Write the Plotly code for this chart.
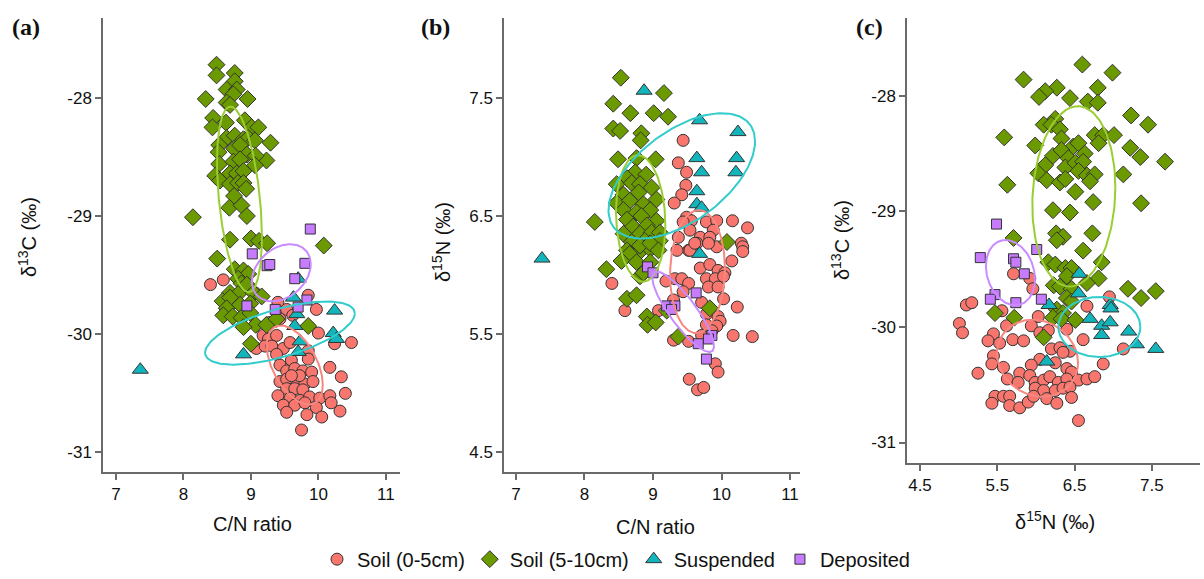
import numpy as np
import plotly.graph_objects as go

# ---------------- data ----------------
groups = ["Soil (0-5cm)", "Soil (5-10cm)", "Suspended", "Deposited"]

# Panel (a): C/N ratio vs d13C
a_soil0_cn = [8.40, 8.59, 9.06, 9.40, 9.53, 9.85, 9.97, 9.28, 9.43, 10.00, 9.18, 9.26, 9.38, 9.08, 9.21, 9.31, 9.48, 9.58,
              9.38, 9.85, 10.24, 10.49, 9.60, 9.85, 10.17, 9.43, 9.53, 9.65, 9.77, 9.90, 9.43, 9.53, 9.68, 9.80, 9.92,
              10.34, 9.53, 9.65, 9.77, 9.40, 9.58, 9.73, 9.87, 10.02, 10.17, 10.40, 9.48, 9.65, 9.80, 9.97, 10.19, 9.53,
              9.83, 10.05, 10.32, 9.75, 9.62, 9.72, 9.60]
a_soil0_c13 = [-29.58, -29.54, -29.65, -29.73, -29.79, -29.67, -29.79, -29.90, -29.87, -29.99, -30.01, -30.04, -30.01,
               -30.12, -30.10, -30.10, -30.12, -30.07, -30.17, -30.14, -30.08, -30.07, -30.22, -30.21, -30.28, -30.26,
               -30.31, -30.29, -30.31, -30.32, -30.40, -30.38, -30.39, -30.42, -30.40, -30.36, -30.46, -30.46, -30.47,
               -30.52, -30.54, -30.56, -30.53, -30.54, -30.52, -30.50, -30.60, -30.60, -30.58, -30.62, -30.58, -30.66,
               -30.68, -30.70, -30.65, -30.81, -29.84, -30.35, -30.35]
a_soil5_cn = [8.49, 8.49, 8.76, 8.76, 8.64, 8.79, 8.74, 8.33, 8.64, 8.69, 8.95, 8.44, 8.43, 8.63, 8.91, 9.01, 9.11, 9.29,
              9.23, 8.64, 8.76, 8.89, 8.96, 9.06, 8.53, 8.52, 8.75, 8.84, 8.94, 9.07, 8.53, 8.74, 8.84, 9.06, 8.47, 8.54,
              8.69, 8.79, 8.89, 8.69, 8.81, 8.89, 8.93, 8.75, 8.68, 8.86, 8.94, 8.14, 8.69, 9.00, 9.12, 9.24, 10.08,
              8.50, 8.76, 8.89, 8.96, 8.81, 8.86, 8.94, 8.69, 8.81, 8.58, 8.69, 9.04, 9.16, 8.64, 8.84, 8.99, 8.59,
              8.73, 8.86, 8.99, 9.07, 8.89, 9.23, 9.38, 9.85, 9.00]
a_soil5_c13 = [-27.72, -27.81, -27.79, -27.86, -27.93, -27.93, -27.97, -28.01, -28.04, -28.06, -28.01, -28.17, -28.25,
               -28.21, -28.19, -28.25, -28.25, -28.38, -28.53, -28.34, -28.32, -28.35, -28.34, -28.36, -28.40, -28.46,
               -28.43, -28.40, -28.48, -28.49, -28.56, -28.54, -28.52, -28.57, -28.66, -28.70, -28.64, -28.64, -28.62,
               -28.73, -28.72, -28.72, -28.77, -28.83, -28.93, -28.91, -29.00, -29.01, -29.20, -29.19, -29.21, -29.23,
               -29.25, -29.36, -29.45, -29.46, -29.49, -29.53, -29.57, -29.58, -29.65, -29.66, -29.72, -29.69, -29.65,
               -29.68, -29.78, -29.75, -29.74, -29.84, -29.85, -29.86, -29.82, -29.92, -29.94, -29.92, -29.87, -29.93,
               -30.08]
a_susp_cn = [9.70, 9.63, 9.68, 10.24, 9.65, 9.73, 9.70, 10.22, 10.27, 8.89, 7.36]
a_susp_c13 = [-29.53, -29.69, -29.83, -29.80, -29.93, -30.06, -30.15, -29.99, -30.04, -30.17, -30.30]
a_dep_cn = [9.88, 9.02, 9.24, 9.28, 9.80, 9.65, 9.83, 8.94, 9.36, 9.70]
a_dep_c13 = [-29.11, -29.32, -29.42, -29.41, -29.40, -29.53, -29.71, -29.76, -29.79, -29.77]

# Panel (b): C/N ratio vs d15N
b_soil0_cn = [9.44, 9.37, 9.49, 9.48, 9.42, 9.31, 9.49, 9.56, 9.44, 9.78, 9.93, 10.16, 10.38, 9.88, 9.54, 9.37, 9.69,
              9.83, 9.64, 10.29, 9.93, 9.52, 9.35, 9.54, 9.61, 9.81, 10.31, 10.31, 10.15, 9.69, 9.83, 9.95, 10.05, 9.78,
              9.91, 10.03, 9.32, 9.42, 9.19, 9.52, 9.81, 9.95, 9.44, 8.40, 10.03, 9.30, 9.71, 8.59, 9.08, 10.23, 9.78,
              9.95, 9.98, 9.78, 9.93, 10.17, 10.45, 9.71, 9.52, 9.30, 9.91, 9.95, 9.53, 9.65, 9.74, 9.86]
b_soil0_n15 = [7.14, 6.95, 6.87, 6.76, 6.68, 6.61, 6.49, 6.46, 6.45, 6.45, 6.46, 6.46, 6.40, 6.38, 6.38, 6.32, 6.32,
               6.32, 6.27, 6.27, 6.24, 6.21, 6.21, 6.21, 6.27, 6.27, 6.24, 6.20, 6.12, 6.06, 6.09, 6.04, 6.02, 5.97,
               5.97, 5.99, 5.97, 5.97, 5.95, 5.93, 5.90, 5.90, 5.86, 5.93, 5.80, 5.79, 5.77, 5.70, 5.70, 5.73, 5.67,
               5.65, 5.61, 5.58, 5.57, 5.49, 5.48, 5.49, 5.44, 5.45, 5.25, 5.18, 5.12, 5.03, 5.05, 5.53]
b_soil5_cn = [8.53, 9.16, 8.42, 8.67, 9.01, 9.22, 8.42, 8.52, 8.83, 8.82, 8.49, 8.76, 9.04, 8.15, 8.74, 8.62, 8.90, 8.47,
              8.69, 8.81, 8.98, 8.57, 8.79, 9.05, 8.47, 8.66, 8.86, 8.57, 8.76, 8.96, 8.62, 8.83, 9.05, 8.71, 8.91, 8.57,
              8.81, 8.98, 9.10, 8.69, 8.88, 9.10, 8.62, 8.81, 8.96, 10.08, 8.81, 8.96, 9.08, 8.66, 8.54, 8.76, 8.96,
              8.32, 8.81, 8.86, 8.62, 8.76, 8.91, 8.92, 9.04, 9.83, 9.37, 9.20]
b_soil5_n15 = [7.67, 7.54, 7.45, 7.37, 7.37, 7.34, 7.24, 7.22, 7.20, 7.14, 6.98, 6.99, 6.98, 6.45, 6.87, 6.82, 6.85, 6.77,
               6.78, 6.77, 6.74, 6.68, 6.70, 6.64, 6.61, 6.63, 6.60, 6.55, 6.53, 6.55, 6.47, 6.50, 6.46, 6.41, 6.42, 6.35,
               6.35, 6.36, 6.36, 6.28, 6.29, 6.29, 6.21, 6.20, 6.22, 6.28, 6.25, 6.27, 6.21, 6.18, 6.12, 6.11, 6.11,
               6.05, 5.99, 6.02, 5.80, 5.83, 5.65, 5.58, 5.60, 5.72, 5.48, 5.70]
b_susp_cn = [8.87, 9.68, 10.24, 9.64, 10.22, 9.71, 10.21, 9.64, 9.64, 9.71, 9.68, 7.38]
b_susp_n15 = [7.56, 7.31, 7.21, 6.99, 6.99, 6.87, 6.87, 6.71, 6.60, 6.57, 6.18, 6.14]
b_dep_cn = [8.92, 9.00, 9.63, 9.20, 9.32, 9.27, 9.86, 9.81, 9.66, 9.78]
b_dep_n15 = [6.07, 6.02, 5.85, 5.74, 5.74, 5.71, 5.49, 5.46, 5.42, 5.29]

# Panel (c): d15N vs d13C
c_soil0_n15 = [5.71, 5.92, 5.96, 5.10, 5.17, 5.56, 6.03, 6.66, 6.95, 5.01, 5.05, 5.62, 5.94, 6.05, 6.16, 6.40, 5.45,
               5.38, 5.53, 5.70, 5.84, 6.61, 7.13, 6.20, 6.31, 6.44, 6.35, 5.45, 5.43, 5.58, 6.05, 5.94, 6.25, 6.40,
               6.46, 6.87, 5.25, 5.63, 5.79, 5.92, 5.77, 5.99, 6.10, 6.18, 6.29, 6.40, 6.55, 6.66, 6.76, 5.99, 6.10,
               6.25, 6.35, 6.44, 5.47, 5.58, 5.66, 5.43, 5.66, 5.79, 5.90, 5.97, 6.14, 6.27, 6.46, 6.55]
c_soil0_c13 = [-29.54, -29.58, -29.67, -29.81, -29.79, -29.86, -29.91, -29.82, -29.74, -29.97, -30.05, -29.99, -29.99,
               -30.05, -30.03, -30.02, -30.06, -30.12, -30.14, -30.11, -30.12, -30.11, -30.19, -30.19, -30.18, -30.21,
               -30.22, -30.25, -30.32, -30.35, -30.28, -30.33, -30.31, -30.36, -30.39, -30.32, -30.40, -30.45, -30.40,
               -30.42, -30.48, -30.48, -30.46, -30.43, -30.48, -30.45, -30.46, -30.45, -30.43, -30.53, -30.55, -30.55,
               -30.53, -30.52, -30.60, -30.60, -30.60, -30.66, -30.68, -30.70, -30.65, -30.60, -30.62, -30.66, -30.61,
               -30.81]
c_soil5_n15 = [6.60, 6.99, 5.84, 6.27, 6.80, 6.12, 6.04, 6.44, 6.67, 6.80, 7.23, 7.45, 6.25, 6.10, 6.20, 6.31, 5.59,
               5.99, 6.33, 6.48, 6.55, 6.76, 6.87, 7.01, 6.81, 7.22, 7.35, 7.67, 6.22, 6.33, 6.42, 6.63, 6.12, 6.38,
               6.51, 6.61, 6.03, 6.14, 6.31, 6.38, 6.55, 6.66, 6.76, 6.70, 7.13, 5.63, 6.51, 6.74, 7.36, 6.22, 6.44,
               6.26, 6.35, 6.27, 6.73, 5.71, 6.61, 6.85, 6.16, 6.25, 6.38, 6.46, 6.40, 6.81, 6.23, 6.31, 6.46, 6.66,
               7.19, 7.36, 7.55, 6.40, 6.46, 6.27, 6.35, 5.47, 5.72, 6.22, 6.33, 6.51, 6.10]
c_soil5_c13 = [-27.73, -27.80, -27.86, -27.93, -27.93, -27.96, -28.01, -28.02, -28.05, -28.06, -28.17, -28.25, -28.20,
               -28.25, -28.25, -28.29, -28.36, -28.43, -28.37, -28.44, -28.41, -28.34, -28.34, -28.34, -28.41, -28.45,
               -28.53, -28.57, -28.52, -28.47, -28.54, -28.50, -28.60, -28.62, -28.58, -28.57, -28.67, -28.73, -28.75,
               -28.72, -28.65, -28.69, -28.68, -28.74, -28.68, -28.77, -28.83, -28.92, -28.93, -28.99, -29.01, -29.19,
               -29.22, -29.25, -29.19, -29.23, -29.34, -29.44, -29.44, -29.46, -29.49, -29.49, -29.56, -29.58, -29.64,
               -29.65, -29.67, -29.62, -29.67, -29.75, -29.69, -29.75, -29.78, -29.85, -29.88, -29.88, -29.92, -29.92,
               -29.93, -29.94, -30.09]
c_susp_n15 = [6.56, 6.55, 6.96, 6.97, 6.17, 6.70, 6.85, 6.96, 6.85, 7.20, 7.30, 7.55, 6.14]
c_susp_c13 = [-29.54, -29.71, -29.81, -29.84, -29.81, -29.93, -29.99, -29.96, -30.07, -30.04, -30.15, -30.19, -30.30]
c_dep_n15 = [5.49, 6.01, 5.28, 5.71, 5.74, 5.85, 5.47, 5.41, 5.74, 6.07]
c_dep_c13 = [-29.11, -29.33, -29.40, -29.41, -29.44, -29.54, -29.72, -29.76, -29.79, -29.76]

# Ellipses: centre x, centre y, half-extent x, half-extent y, correlation (order follows `groups`)
a_ell_cx = [9.65, 8.83, 9.43, 9.45]
a_ell_cy = [-30.26, -28.86, -29.99, -29.48]
a_ell_hx = [0.415, 0.333, 1.11, 0.437]
a_ell_hy = [0.334, 0.785, 0.267, 0.242]
a_ell_r = [-0.5, -0.4, 0.62, 0.3]

b_ell_cx = [9.65, 8.82, 9.42, 9.44]
b_ell_cy = [6.03, 6.48, 6.84, 5.69]
b_ell_hx = [0.40, 0.36, 1.07, 0.45]
b_ell_hy = [0.52, 0.535, 0.53, 0.34]
b_ell_r = [0.05, -0.1, 0.55, -0.85]

c_ell_cx = [6.02, 6.49, 6.82, 5.67]
c_ell_cy = [-30.27, -28.87, -30.0, -29.53]
c_ell_hx = [0.524, 0.537, 0.53, 0.317]
c_ell_hy = [0.333, 0.78, 0.26, 0.282]
c_ell_r = [-0.12, 0.1, 0.0, -0.2]

tick_cn = [7, 8, 9, 10, 11]
tick_cn_text = ["7", "8", "9", "10", "11"]
tick_c13 = [-31, -30, -29, -28]
tick_c13_text = ["-31", "-30", "-29", "-28"]
tick_n15 = [4.5, 5.5, 6.5, 7.5]
tick_n15_text = ["4.5", "5.5", "6.5", "7.5"]

# ---------------- styling ----------------
W, H = 1204, 579
symbols = ["circle", "diamond", "triangle-up", "square"]
fills = ["#F8766D", "#6B9A00", "#12B5BC", "#C77CFF"]
sizes = [12, 13, 14, 10]
ell_colors = ["#F8877F", "#9ACD32", "#33CCCC", "#C98BFF"]
FONT = "Liberation Sans, Arial, sans-serif"


def ellipse(cx, cy, hx, hy, r, n=160):
    t = np.linspace(0, 2 * np.pi, n)
    x = cx + hx * np.cos(t)
    y = cy + hy * (r * np.cos(t) + np.sqrt(1 - r * r) * np.sin(t))
    return x, y


fig = go.Figure()

panels = [
    ("x", "y", [(a_soil0_cn, a_soil0_c13), (a_soil5_cn, a_soil5_c13), (a_susp_cn, a_susp_c13), (a_dep_cn, a_dep_c13)],
     (a_ell_cx, a_ell_cy, a_ell_hx, a_ell_hy, a_ell_r)),
    ("x2", "y2", [(b_soil0_cn, b_soil0_n15), (b_soil5_cn, b_soil5_n15), (b_susp_cn, b_susp_n15), (b_dep_cn, b_dep_n15)],
     (b_ell_cx, b_ell_cy, b_ell_hx, b_ell_hy, b_ell_r)),
    ("x3", "y3", [(c_soil0_n15, c_soil0_c13), (c_soil5_n15, c_soil5_c13), (c_susp_n15, c_susp_c13), (c_dep_n15, c_dep_c13)],
     (c_ell_cx, c_ell_cy, c_ell_hx, c_ell_hy, c_ell_r)),
]

for pi, (xa, ya, series, ell) in enumerate(panels):
    for gi, (xs, ys) in enumerate(series):
        fig.add_trace(go.Scatter(
            x=xs, y=ys, mode="markers", xaxis=xa, yaxis=ya,
            name=groups[gi], legendgroup=groups[gi], showlegend=(pi == 0),
            marker=dict(symbol=symbols[gi], color=fills[gi], size=sizes[gi],
                        line=dict(color="#333333", width=1)),
        ))
    cxs, cys, hxs, hys, rs = ell
    for gi in range(4):
        ex, ey = ellipse(cxs[gi], cys[gi], hxs[gi], hys[gi], rs[gi])
        fig.add_trace(go.Scatter(
            x=ex, y=ey, mode="lines", xaxis=xa, yaxis=ya, showlegend=False,
            line=dict(color=ell_colors[gi], width=2), hoverinfo="skip",
        ))


def px_x(p):
    return p / W


def px_y(p):
    return 1 - p / H


axis_common = dict(showgrid=False, zeroline=False, showline=True, linecolor="#6a6a6a", linewidth=1.5,
                   ticks="outside", ticklen=6, tickcolor="#6a6a6a", tickwidth=1.5,
                   tickfont=dict(family=FONT, size=17, color="#111111"), mirror=False)

fig.update_layout(
    width=W, height=H, margin=dict(l=0, r=0, t=0, b=0),
    paper_bgcolor="white", plot_bgcolor="white",
    xaxis=dict(domain=[px_x(103), px_x(400)], range=[6.807, 11.21], tickvals=tick_cn, ticktext=tick_cn_text,
               anchor="y", **axis_common),
    yaxis=dict(domain=[px_y(478), px_y(18)], range=[-31.167, -27.323], tickvals=tick_c13, ticktext=tick_c13_text,
               anchor="x", **axis_common),
    xaxis2=dict(domain=[px_x(504), px_x(800)], range=[6.825, 11.146], tickvals=tick_cn, ticktext=tick_cn_text,
                anchor="y2", **axis_common),
    yaxis2=dict(domain=[px_y(478), px_y(18)], range=[4.333, 8.177], tickvals=tick_n15, ticktext=tick_n15_text,
                anchor="x2", **axis_common),
    xaxis3=dict(domain=[px_x(907), px_x(1200)], range=[4.332, 8.122], tickvals=tick_n15, ticktext=tick_n15_text,
                anchor="y3", **axis_common),
    yaxis3=dict(domain=[px_y(469), px_y(18)], range=[-31.18, -27.325], tickvals=tick_c13, ticktext=tick_c13_text,
                anchor="x3", **axis_common),
    legend=dict(orientation="h", x=px_x(616), xanchor="center", y=px_y(566), yanchor="middle",
                font=dict(family=FONT, size=20, color="#111111"), bgcolor="rgba(0,0,0,0)",
                itemsizing="trace", tracegroupgap=0),
    showlegend=True,
)

annots = [
    ("(a)", 26, 27, 0, dict(family="Liberation Serif, Times New Roman, serif", size=24, color="#111111"), True),
    ("(b)", 435, 27, 0, dict(family="Liberation Serif, Times New Roman, serif", size=24, color="#111111"), True),
    ("(c)", 869, 27, 0, dict(family="Liberation Serif, Times New Roman, serif", size=24, color="#111111"), True),
    ("C/N ratio", 252, 530, 0, dict(family=FONT, size=20, color="#111111"), False),
    ("C/N ratio", 655, 533, 0, dict(family=FONT, size=20, color="#111111"), False),
    ("δ<sup>15</sup>N (‰)", 1055, 527, 0, dict(family=FONT, size=20, color="#111111"), False),
    ("δ<sup>13</sup>C (‰)", 27, 240, -90, dict(family=FONT, size=20, color="#111111"), False),
    ("δ<sup>15</sup>N (‰)", 441, 245, -90, dict(family=FONT, size=20, color="#111111"), False),
    ("δ<sup>13</sup>C (‰)", 840, 243, -90, dict(family=FONT, size=20, color="#111111"), False),
]
for text, x, y, ang, font, bold in annots:
    fig.add_annotation(text=("<b>%s</b>" % text) if bold else text, x=px_x(x), y=px_y(y), xref="paper", yref="paper",
                       xanchor="center", yanchor="middle", showarrow=False, textangle=ang, font=font)

fig.write_html("out.html")
